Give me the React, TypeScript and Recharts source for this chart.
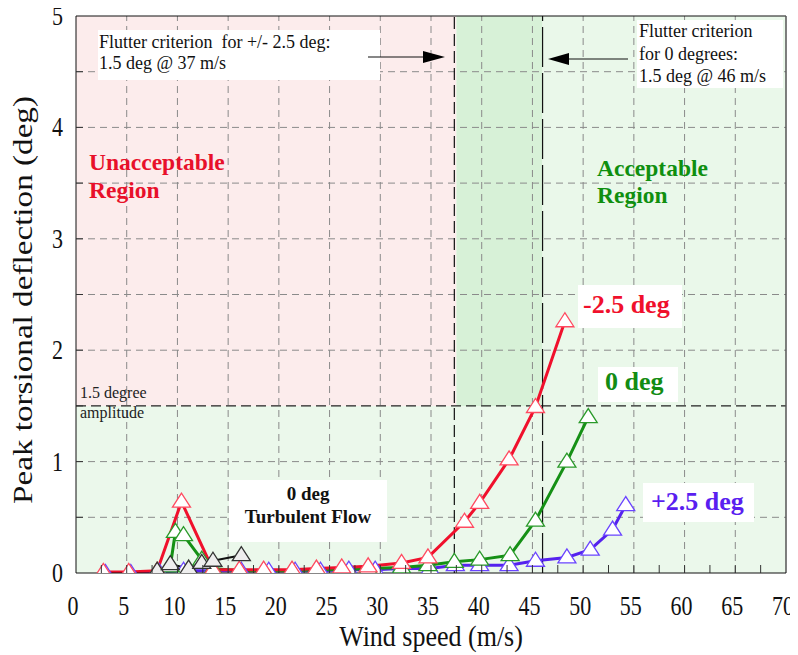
import React from 'react';
import { LineChart, Line, XAxis, YAxis, ReferenceArea, ReferenceLine } from 'recharts';

// ---------- data ----------
const redSpeed = [2.7, 5.2, 8.0, 10.4, 13.5, 16.1, 18.5, 21.3, 23.7, 26.2, 28.8, 32.1, 34.7, 38.3, 39.8, 42.7, 45.3, 48.2];
const redDefl = [0.01, 0.01, 0.02, 0.64, 0.03, 0.03, 0.03, 0.03, 0.04, 0.05, 0.06, 0.09, 0.14, 0.46, 0.63, 1.02, 1.49, 2.26];

const greenSpeed = [8.0, 9.3, 9.8, 10.6, 12.4, 13.5, 16.1, 18.5, 21.3, 23.7, 26.2, 28.8, 32.1, 34.7, 37.3, 39.8, 42.8, 45.3, 48.4, 50.5];
const greenDefl = [0.02, 0.06, 0.37, 0.34, 0.12, 0.04, 0.02, 0.02, 0.02, 0.03, 0.03, 0.04, 0.05, 0.07, 0.1, 0.12, 0.16, 0.47, 1.0, 1.4];

const blueSpeed = [2.9, 5.4, 8.2, 10.6, 13.3, 16.3, 19.0, 21.6, 24.1, 26.9, 29.5, 32.0, 34.9, 37.4, 39.8, 42.7, 45.3, 48.4, 50.7, 52.9, 54.2];
const blueDefl = [0.0, 0.0, 0.01, 0.02, 0.02, 0.02, 0.02, 0.02, 0.02, 0.03, 0.03, 0.04, 0.04, 0.07, 0.07, 0.07, 0.11, 0.14, 0.21, 0.39, 0.61];

const turbSpeed = [8.0, 9.3, 11.1, 12.4, 13.5, 16.3];
const turbDefl = [0.02, 0.08, 0.04, 0.09, 0.11, 0.16];

const xTicks = [0, 2.5, 5, 7.5, 10, 12.5, 15, 17.5, 20, 22.5, 25, 27.5, 30, 32.5, 35, 37.5, 40, 42.5, 45, 47.5, 50, 52.5, 55, 57.5, 60, 62.5, 65, 67.5, 70];
const yTicks = [0, 0.5, 1, 1.5, 2, 2.5, 3, 3.5, 4, 4.5, 5];
const xGrid = [5, 10, 15, 20, 25, 30, 35, 40, 45, 50, 55, 60, 65];
const yGrid = [0.5, 1, 2, 2.5, 3, 3.5, 4, 4.5];

const criterionAmp = 1.5;
const flutterNeg = 37.3;
const flutterZero = 46;

const zip = (xs: number[], ys: number[]) => xs.map((x, i) => ({ x, y: ys[i] }));
const redData = zip(redSpeed, redDefl);
const greenData = zip(greenSpeed, greenDefl);
const blueData = zip(blueSpeed, blueDefl);
const turbData = zip(turbSpeed, turbDefl);

const SERIF = '"Liberation Serif", "Times New Roman", serif';

const tri = (stroke: string, fill: string) => (props: any) => {
  const { cx, cy, key, index } = props;
  if (cx == null || cy == null) return <g key={key ?? index} />;
  return (
    <polygon
      key={key ?? index}
      points={`${cx},${cy - 8.5} ${cx - 9},${cy + 5.5} ${cx + 9},${cy + 5.5}`}
      fill={fill}
      stroke={stroke}
      strokeWidth={1.3}
    />
  );
};

const XTick = (props: any) => {
  const { x, y, payload } = props;
  const v = payload.value;
  const major = v % 5 === 0;
  return (
    <g>
      {v > 0 && v < 70 && <line x1={x} x2={x} y1={y} y2={y - 8} stroke="#333" strokeWidth={1} />}
      {major && (
        <text
          transform={`translate(${x - 3},${y + 42}) scale(1,1.2)`}
          textAnchor="middle"
          fontSize={22}
          fontFamily={SERIF}
          fill="#111"
        >
          {v}
        </text>
      )}
    </g>
  );
};

const YTick = (props: any) => {
  const { x, y, payload } = props;
  const v = payload.value;
  const major = Number.isInteger(v);
  return (
    <g>
      {v > 0 && v < 5 && <line x1={x} x2={x + 7} y1={y} y2={y} stroke="#333" strokeWidth={1} />}
      {major && (
        <text
          transform={`translate(${x - 13},${y + 9}) scale(1,1.2)`}
          textAnchor="end"
          fontSize={22}
          fontFamily={SERIF}
          fill="#111"
        >
          {v}
        </text>
      )}
    </g>
  );
};

const W = 798;
const H = 655;

export default function App() {
  return (
    <div style={{ position: 'relative', width: W, height: H, marginTop: -8, marginLeft: -8 }}>
      <LineChart width={W} height={H} margin={{ top: 16, right: 12, left: 16, bottom: 22 }}>
        <XAxis
          type="number"
          dataKey="x"
          domain={[0, 70]}
          ticks={xTicks}
          interval={0}
          tick={XTick}
          tickLine={false}
          tickSize={0}
          tickMargin={0}
          height={60}
          axisLine={{ stroke: '#111' }}
          allowDataOverflow
        />
        <YAxis
          type="number"
          dataKey="y"
          domain={[0, 5]}
          ticks={yTicks}
          interval={0}
          tick={YTick}
          tickLine={false}
          tickSize={0}
          tickMargin={0}
          width={60}
          axisLine={{ stroke: '#111' }}
          allowDataOverflow
        />
        <ReferenceArea x1={0} x2={70} y1={0} y2={criterionAmp} fill="#ebf8eb" fillOpacity={1} stroke="none" />
        <ReferenceArea x1={0} x2={37.5} y1={criterionAmp} y2={5} fill="#fcecec" fillOpacity={1} stroke="none" />
        <ReferenceArea x1={37.5} x2={flutterZero} y1={criterionAmp} y2={5} fill="#d7f1d7" fillOpacity={1} stroke="none" />
        <ReferenceArea x1={flutterZero} x2={70} y1={criterionAmp} y2={5} fill="#eaf8ea" fillOpacity={1} stroke="none" />
        {xGrid.map((v) => (
          <ReferenceLine key={'gx' + v} x={v} stroke="#8a8a8a" strokeDasharray="7 5" strokeWidth={1} />
        ))}
        {yGrid.map((v) => (
          <ReferenceLine key={'gy' + v} y={v} stroke="#8a8a8a" strokeDasharray="7 5" strokeWidth={1} />
        ))}
        <ReferenceLine y={criterionAmp} stroke="#222" strokeDasharray="10 5" strokeWidth={1.2} />
        <ReferenceLine x={flutterNeg} stroke="#111" strokeDasharray="12 5" strokeWidth={1.2} />
        <ReferenceLine x={flutterZero} stroke="#111" strokeDasharray="40 6" strokeWidth={1.2} />
        <ReferenceLine y={5} stroke="#111" strokeWidth={1} />
        <ReferenceLine x={70} stroke="#555" strokeWidth={1.5} />

        <Line data={blueData} dataKey="y" type="linear" stroke="#5522ee" strokeWidth={3} dot={tri('#6a44ff', '#ffffff')} isAnimationActive={false} />
        <Line data={greenData} dataKey="y" type="linear" stroke="#159015" strokeWidth={3} dot={tri('#2a9a2a', '#ffffff')} isAnimationActive={false} />
        <Line data={redData} dataKey="y" type="linear" stroke="#f0102c" strokeWidth={3} dot={tri('#ff4a60', '#ffffff')} isAnimationActive={false} />
        <Line data={turbData} dataKey="y" type="linear" stroke="#111111" strokeWidth={2} dot={tri('#333333', '#eeeeee')} isAnimationActive={false} />
      </LineChart>

      <svg
        width={W}
        height={H}
        style={{ position: 'absolute', left: 0, top: 0, pointerEvents: 'none' }}
        fontFamily={SERIF}
      >
        {/* axis titles */}
        <text
          transform="translate(32,300) rotate(-90)"
          textAnchor="middle"
          fontSize={27}
          textLength={408}
          lengthAdjust="spacingAndGlyphs"
          fill="#111"
        >
          Peak torsional deflection (deg)
        </text>
        <text transform="translate(431,646) scale(1,1.12)" textAnchor="middle" fontSize={26} fill="#111">
          Wind speed (m/s)
        </text>

        {/* flutter criterion -2.5 */}
        <rect x={98} y={30} width={282} height={50} fill="#ffffff" />
        <text x={99} y={48} fontSize={18} fill="#111">{'Flutter criterion\u00a0 for +/- 2.5 deg:'}</text>
        <text x={99} y={69} fontSize={18} fill="#111">1.5 deg @ 37 m/s</text>
        <line x1={368} y1={57} x2={426} y2={57} stroke="#111" strokeWidth={1.2} />
        <polygon points="445,57 423,51 423,63" fill="#000" />

        {/* flutter criterion 0 */}
        <rect x={637} y={20} width={146} height={68} fill="#ffffff" />
        <text x={639} y={37} fontSize={18} fill="#111">Flutter criterion</text>
        <text x={639} y={60} fontSize={18} fill="#111">for 0 degrees:</text>
        <text x={639} y={82} fontSize={18} fill="#111">1.5 deg @ 46 m/s</text>
        <line x1={628} y1={59} x2={566} y2={59} stroke="#111" strokeWidth={1.2} />
        <polygon points="548,59 569,53 569,65" fill="#000" />

        {/* regions */}
        <text x={89} y={170} fontSize={23.5} fontWeight="bold" fill="#e8102a">Unacceptable</text>
        <text x={89} y={198} fontSize={23.5} fontWeight="bold" fill="#e8102a">Region</text>
        <text x={597} y={176} fontSize={23.5} fontWeight="bold" fill="#0f8f0f">Acceptable</text>
        <text x={597} y={203} fontSize={23.5} fontWeight="bold" fill="#0f8f0f">Region</text>

        {/* series labels */}
        <rect x={578} y={285} width={104} height={43} fill="#ffffff" />
        <text x={583} y={313} fontSize={26} fontWeight="bold" fill="#f0102c">-2.5 deg</text>
        <rect x={598} y={367} width={80} height={35} fill="#ffffff" />
        <text x={605} y={390} fontSize={26} fontWeight="bold" fill="#138c13">0 deg</text>
        <rect x={643} y={483} width={111} height={39} fill="#ffffff" />
        <text x={651} y={510} fontSize={26} fontWeight="bold" fill="#5a1ef0">+2.5 deg</text>
        <rect x={229} y={480} width={158} height={62} fill="#ffffff" />
        <text x={308} y={500} fontSize={19} fontWeight="bold" textAnchor="middle" fill="#111">0 deg</text>
        <text x={308} y={523} fontSize={19} fontWeight="bold" textAnchor="middle" fill="#111">Turbulent Flow</text>

        {/* amplitude marker */}
        <text x={80} y={398} fontSize={16} fill="#222">1.5 degree</text>
        <text x={80} y={418} fontSize={16} fill="#222">amplitude</text>
      </svg>
    </div>
  );
}
